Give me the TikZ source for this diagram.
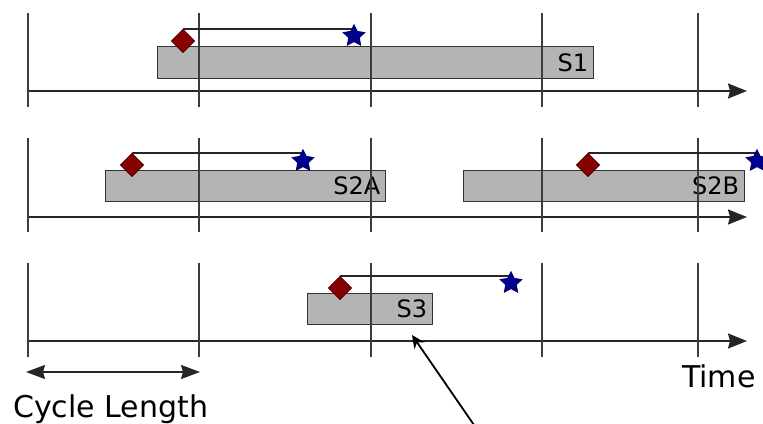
\documentclass[tikz,border=0pt]{standalone}
\usepackage{fontspec}
\setmainfont{DejaVu Sans}
\usetikzlibrary{shapes.geometric,arrows.meta}
\definecolor{barfill}{HTML}{B4B4B4}
\definecolor{startred}{HTML}{880000}
\definecolor{endblue}{HTML}{000090}
\definecolor{tickgray}{HTML}{3C3C3C}

\begin{document}
\begin{tikzpicture}[x=1pt,y=-1pt,
  tick/.style={draw=tickgray, line width=1.7pt},
  timeaxis/.style={draw=black!85, line width=1.7pt, -{Stealth[length=19pt,width=15pt,inset=2pt]}},
  job/.style={draw=black!80, fill=barfill, line width=1.4pt, rectangle, inner sep=0, anchor=north west},
  joblabel/.style={font=\fontsize{24}{24}\selectfont, anchor=east, inner sep=0},
  release/.style={diamond, fill=startred, draw=startred!60!black, line width=0.6pt, minimum size=23pt, inner sep=0},
  deadline/.style={star, star points=5, star point ratio=2.0, fill=endblue, draw=endblue!60!black, line width=0.6pt, minimum size=23pt, inner sep=0},
  span/.style={draw=black!85, line width=1.5pt},
  caption/.style={font=\fontsize{30}{30}\selectfont, inner sep=0}
]
\clip (0,0) rectangle (763,423);

% ---- time axes ----
\foreach \r/\ay in {1/91, 2/217, 3/341} {
  \coordinate (ax\r s) at (28,\ay);
  \coordinate (ax\r e) at (747,\ay);
  \draw[timeaxis] (ax\r s) -- (ax\r e);
}

% ---- jobs ----
\node[job, minimum width=436pt, minimum height=32pt] (s1) at (157,46) {};
\node[joblabel] (s1l) at ([xshift=-6pt]s1.east) {S1};

\node[job, minimum width=280pt, minimum height=31pt] (s2a) at (105,170) {};
\node[joblabel] (s2al) at ([xshift=-6pt]s2a.east) {S2A};

\node[job, minimum width=281pt, minimum height=31pt] (s2b) at (463,170) {};
\node[joblabel] (s2bl) at ([xshift=-6pt]s2b.east) {S2B};

\node[job, minimum width=125pt, minimum height=31pt] (s3) at (307,293) {};
\node[joblabel] (s3l) at ([xshift=-6pt]s3.east) {S3};

% ---- cycle boundaries ----
\foreach \r/\ta/\tb in {1/13/107, 2/138/232, 3/263/357} {
  \foreach \c/\x in {1/28, 2/199, 3/371, 4/542, 5/698} {
    \coordinate (t\r\c a) at (\x,\ta);
    \coordinate (t\r\c b) at (\x,\tb);
    \draw[tick] (t\r\c a) -- (t\r\c b);
  }
}

% ---- release / deadline spans ----
\coordinate (r1) at (183,41);    \coordinate (d1) at (354,36);
\coordinate (r2a) at (132,165);  \coordinate (d2a) at (303,161);
\coordinate (r2b) at (588,165);  \coordinate (d2b) at (757,161);
\coordinate (r3) at (340,288);   \coordinate (d3) at (511,283);

\foreach \a/\b in {r1/d1, r2a/d2a, r2b/d2b, r3/d3} {
  \node[release] (\a m) at (\a) {};
  \draw[span] (\a m.north) -- (\b |- \a m.north);
  \node[deadline] (\b m) at (\b) {};
  \node[release] at (\a) {};
}

% ---- cycle length ----
\coordinate (cl1) at (26,372);
\coordinate (cl2) at (200,372);
\draw[draw=black!85, line width=1.7pt, {Stealth[length=19pt,width=14pt,inset=2pt]}-{Stealth[length=19pt,width=14pt,inset=2pt]}] (cl1) -- (cl2);
\node[caption, anchor=base west] (cyc) at (13,417) {Cycle Length};
\node[caption, anchor=base west] (time) at (682,387) {Time};

% ---- pointer ----
\coordinate (ptail) at (474,425);
\coordinate (phead) at (412,335);
\draw[line width=1.8pt, -{Stealth[length=13pt,width=12pt,inset=4pt]}] (ptail) -- (phead);
\end{tikzpicture}
\end{document}
